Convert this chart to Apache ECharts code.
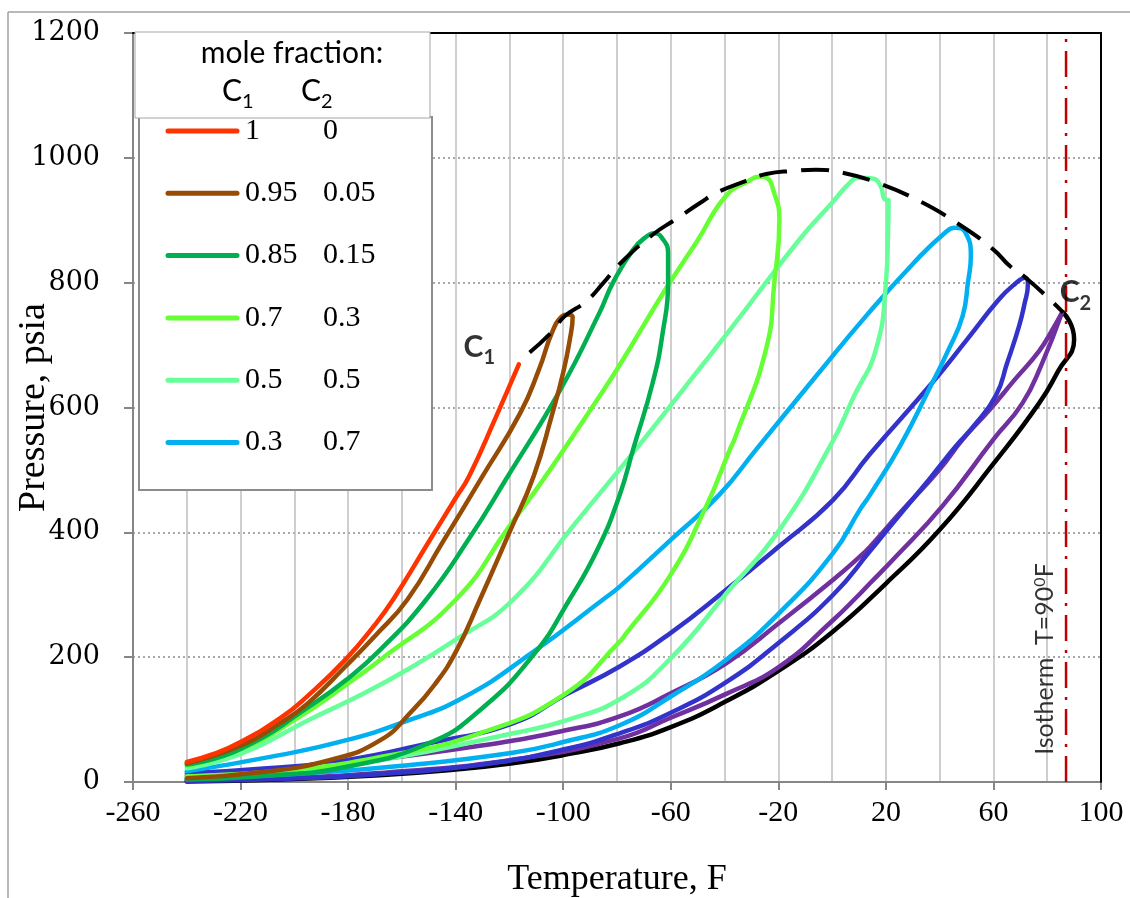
<!DOCTYPE html>
<html>
<head>
<meta charset="utf-8">
<script src="https://cdn.jsdelivr.net/npm/echarts@6/dist/echarts.min.js"></script>
<style>html,body{margin:0;padding:0;background:#fff}#chart{width:1130px;height:898px}</style>
</head>
<body>
<div id="chart"></div>
<script>
// ---- axis ranges / ticks ----
const xRange = [-260, 100];
const xStep = 40;
const yRange = [0, 1200];
const yStep = 200;

// ---- legend table (mole fractions) ----
const legendC1 = ['1', '0.95', '0.85', '0.7', '0.5', '0.3'];
const legendC2 = ['0', '0.05', '0.15', '0.3', '0.5', '0.7'];

// ---- phase envelopes [T (F), P (psia)] ----
const env100 = [[-240,32],[-230,45],[-220,64],[-205,103],[-195,138],[-181,196],[-170,252],[-163,294],[-150,385],[-140,455],[-135,490],[-125,585],[-116.5,669]];
const env95 = [[-240,30],[-220,58],[-205,95],[-195,126],[-181,185],[-170,234],[-158,292],[-145,383],[-130,490],[-116,591],[-109,661],[-104,722],[-100.5,746],[-98.5,749],[-96.5,745],[-97.5,710],[-100,656],[-104,591],[-111,490],[-120,400],[-131,292],[-140,208],[-148,155],[-156,115],[-168,67],[-187,35],[-212,16],[-240,6]];
const env85 = [[-240,28],[-220,53],[-193,125],[-180,166],[-168,212],[-151,292],[-135,390],[-121,487],[-101,629],[-86.5,752],[-81.5,800],[-74,853],[-69,874],[-66,879],[-63.5,873],[-61,848],[-61,800],[-63,720],[-66.7,640],[-74,533],[-79,460],[-87,375],[-97.7,292],[-111,204],[-131,115],[-150,62],[-181,24],[-210,10],[-240,4]];
const env70 = [[-240,26],[-220,52],[-199,102],[-180,158],[-168,196],[-140,292],[-120,410],[-107.5,484],[-86.5,618],[-79,668],[-62,789],[-50,868],[-39.5,939],[-31,963],[-27,970],[-24,967],[-22,950],[-19.6,902],[-21.5,800],[-24.6,693],[-36.3,549],[-38,533],[-46.8,442],[-60.5,329],[-76.6,238],[-79,225],[-99,142],[-131,78],[-168,40],[-200,20],[-240,9]];
const env50 = [[-240,22],[-220,45],[-193,103],[-175,140],[-156,185],[-140,228],[-118.7,292],[-96,412],[-73,533],[-55,631],[-37,730],[-12,870],[0,928],[7,962],[10,968],[15,967],[18,955],[19.5,934],[21,932],[20.8,880],[20,800],[16.3,693],[8,617],[-0.5,540],[-19.6,404],[-38.2,308],[-60.5,196],[-78,135],[-98,100],[-118.7,78],[-168,35],[-200,18],[-240,8]];
const env30 = [[-240,17],[-205.5,43],[-180.6,67],[-160,95],[-137.3,135],[-111.3,208],[-85.3,292],[-79,313],[-60,388],[-42,460],[-28.2,533],[-6,650],[12.5,746],[30,830],[42,880],[46,888],[49.5,881],[51.6,843],[50.5,800],[48.5,746],[43,690],[37.3,640],[25.5,540],[14.1,460],[10.3,436],[0.4,367],[-19.6,271],[-39.4,196],[-60,137],[-79,91],[-100,64],[-118.8,47],[-160,26],[-200,13],[-240,5]];
const env15 = [[-240,14],[-210,22],[-180.7,35],[-150,62],[-118.8,94],[-99,140],[-79,185],[-60,239],[-39.4,308],[-19.6,378],[0.4,452],[14,525],[37.3,640],[50,708],[62,773],[68,798],[71.8,808],[72.8,797],[71.5,765],[69.5,730],[65,670],[61,620],[53,572],[46,538],[40,506],[35,479],[22.6,415],[14.1,370],[0.4,300],[-19.6,224],[-39.4,160],[-60,111],[-79,78],[-100,52],[-130,28],[-170,12],[-205,5],[-240,2]];
const env05 = [[-240,10],[-210,18],[-180.7,30],[-131,58],[-100,82],[-79,105],[-60,142],[-39.4,190],[-19.6,255],[0.4,324],[10.3,361],[14.1,377],[25,430],[39.8,500],[48.6,549],[58.5,596],[68,645],[76.9,690],[82,725],[85.5,752],[78,670],[70.8,607],[60,549],[41,442],[22.6,356],[14,318],[10,300],[0,258],[-19.6,185],[-40,140],[-60,103],[-79,70],[-120,35],[-170,14],[-205,6],[-240,2]];
const env00 = [[-240,1],[-205,4],[-168.3,11],[-140,20],[-118.8,30],[-100,43],[-79,62],[-60,88],[-40,128],[-20,178],[0,240],[20,318],[40,404],[60,510],[77,607],[84,658],[90,709],[89.5,725],[88,740],[86,752]];
const criticalLocus = [[-112.5,688],[-104,722],[-99.5,746],[-91.5,770],[-85,800],[-79,830],[-67,876],[-58,902],[-49,928],[-43,944],[-32,963],[-24.5,974],[-14.5,979],[-6,981],[4,976],[15,963],[31,934],[47,894],[60,853],[66,827],[72,808],[81,773],[86,752]];

// ---- isotherm and annotations ----
const isothermT = 87;
const isothermLine = [[isothermT, 0], [isothermT, 1200]];
const labelC1Pos = [-131.2, 697];
const labelC2Pos = [90.5, 784];
const labelIsoPos = [79, 197];

// ---- styles ----
const colors = ['#ff3300', '#974c06', '#00b050', '#66ff33', '#66ff99', '#00b0f0', '#3333cc', '#7030a0', '#000000'];
const envelopes = [env00, env05, env15, env30, env50, env70, env85, env95, env100];
const envColors = [colors[8], colors[7], colors[6], colors[5], colors[4], colors[3], colors[2], colors[1], colors[0]];

const chart = echarts.init(document.getElementById('chart'), null, {renderer: 'canvas'});

const series = envelopes.map((d, i) => ({
  type: 'line', data: d, smooth: 0.5, symbol: 'none', showSymbol: false,
  lineStyle: {color: envColors[i], width: 4.5, cap: 'round', join: 'round'},
  z: 3 + i, silent: true
}));
series.push({
  type: 'line', data: criticalLocus, smooth: 0.5, symbol: 'none',
  lineStyle: {color: '#000', width: 4, type: [28, 14]}, z: 20, silent: true
});
series.push({
  type: 'line', data: isothermLine, symbol: 'none',
  lineStyle: {color: '#c00000', width: 2.5, type: [26, 9, 3, 9]}, z: 21, silent: true
});
const subRich = {
  c: {fontFamily: 'Lato', fontWeight: 'bold', fontSize: 30, color: '#000'},
  s: {fontFamily: 'Lato', fontWeight: 'bold', fontSize: 20, color: '#000', verticalAlign: 'bottom', lineHeight: 42}
};
series.push({
  type: 'scatter', symbolSize: 1, itemStyle: {color: 'rgba(0,0,0,0)'}, z: 30, silent: true,
  data: [
    {value: labelC1Pos, label: {show: true, position: 'inside', formatter: '{c|C}{s|1}', rich: subRich}},
    {value: labelC2Pos, label: {show: true, position: 'inside', formatter: '{c|C}{s|2}', rich: subRich}},
    {value: labelIsoPos, label: {show: true, position: 'inside', rotate: 90,
      formatter: '{a|Isotherm  T=90}{b|0}{a|F}',
      rich: {a: {fontFamily: 'Lato', fontSize: 25, color: '#000', lineHeight: 26},
             b: {fontFamily: 'Lato', fontSize: 16, color: '#000', verticalAlign: 'top'}}}}
  ]
});

// ---- legend graphics ----
const graphics = [
  {type: 'line', shape: {x1: 8, y1: 12, x2: 1130, y2: 12}, style: {stroke: '#a0a0a0', lineWidth: 1.5}, z: 100},
  {type: 'line', shape: {x1: 8, y1: 12, x2: 8, y2: 898}, style: {stroke: '#a0a0a0', lineWidth: 1.5}, z: 100},
  {type: 'rect', shape: {x: 139, y: 117, width: 293, height: 373}, style: {fill: '#fff', stroke: '#8c8c8c', lineWidth: 2}, z: 100},
  {type: 'rect', shape: {x: 135, y: 32, width: 295, height: 86}, style: {fill: '#fff', stroke: '#a6a6a6', lineWidth: 1}, z: 101},
  {type: 'text', style: {text: 'mole fraction:', x: 292, y: 53, align: 'center', verticalAlign: 'middle', fontFamily: 'Lato', fontSize: 30, fill: '#000'}, z: 102},
  {type: 'text', style: {text: '{c|C}{s|1}', x: 222, y: 70, align: 'left', verticalAlign: 'top',
    rich: {c: {fontFamily: 'Lato', fontSize: 30, fill: '#000'}, s: {fontFamily: 'Lato', fontSize: 20, fill: '#000', verticalAlign: 'bottom', lineHeight: 42}}}, z: 102},
  {type: 'text', style: {text: '{c|C}{s|2}', x: 301, y: 70, align: 'left', verticalAlign: 'top',
    rich: {c: {fontFamily: 'Lato', fontSize: 30, fill: '#000'}, s: {fontFamily: 'Lato', fontSize: 20, fill: '#000', verticalAlign: 'bottom', lineHeight: 42}}}, z: 102}
];
legendC1.forEach((v, i) => {
  const y = 131 + 62.3 * i;
  graphics.push({type: 'line', shape: {x1: 168, y1: y, x2: 237, y2: y}, style: {stroke: colors[i], lineWidth: 5, lineCap: 'round'}, z: 102});
  graphics.push({type: 'text', style: {text: v, x: 245, y: y, align: 'left', verticalAlign: 'middle', fontFamily: 'Liberation Serif', fontSize: 30, fill: '#000'}, z: 102});
  graphics.push({type: 'text', style: {text: legendC2[i], x: 323, y: y, align: 'left', verticalAlign: 'middle', fontFamily: 'Liberation Serif', fontSize: 30, fill: '#000'}, z: 102});
});

chart.setOption({
  animation: false,
  grid: {left: 133, right: 29, top: 33, bottom: 116, containLabel: false, outerBoundsMode: 'none'},
  xAxis: [{
    type: 'value', min: xRange[0], max: xRange[1], interval: xStep,
    name: 'Temperature, F', nameLocation: 'middle', nameGap: 80, nameMoveOverlap: false,
    nameTextStyle: {fontFamily: 'Liberation Serif', fontSize: 36, color: '#000'},
    axisLine: {show: true, onZero: false, lineStyle: {color: '#868686', width: 2}},
    axisTick: {show: true, length: 8, lineStyle: {color: '#868686', width: 2}},
    axisLabel: {fontFamily: 'Liberation Serif', fontSize: 30, color: '#000', margin: 16, formatter: v => String(v)},
    splitLine: {show: true, lineStyle: {color: '#bfbfbf', width: 1.5}},
    minorTick: {show: false, splitNumber: 2},
    minorSplitLine: {show: true, lineStyle: {color: '#bfbfbf', width: 1.5}},
    z: 1
  }, {
    type: 'value', position: 'top', min: xRange[0], max: xRange[1],
    axisLine: {show: true, onZero: false, lineStyle: {color: '#000', width: 2}},
    axisTick: {show: false}, axisLabel: {show: false}, splitLine: {show: false}, z: 5
  }],
  yAxis: [{
    type: 'value', min: yRange[0], max: yRange[1], interval: yStep,
    name: 'Pressure, psia', nameLocation: 'middle', nameGap: 80, nameRotate: 90, nameMoveOverlap: false,
    nameTextStyle: {fontFamily: 'Liberation Serif', fontSize: 38, color: '#000'},
    axisLine: {show: true, onZero: false, lineStyle: {color: '#868686', width: 2}},
    axisTick: {show: true, length: 9, lineStyle: {color: '#868686', width: 2}},
    axisLabel: {fontFamily: 'DejaVu Serif', fontSize: 27, color: '#000', margin: 33, formatter: v => String(v)},
    splitLine: {show: true, lineStyle: {color: '#8c8c8c', width: 1.5, type: [2, 3]}},
    z: 1
  }, {
    type: 'value', position: 'right', min: yRange[0], max: yRange[1],
    axisLine: {show: true, onZero: false, lineStyle: {color: '#000', width: 2}},
    axisTick: {show: false}, axisLabel: {show: false}, splitLine: {show: false}, z: 5
  }],
  series: series,
  graphic: graphics
});
</script>
</body>
</html>
